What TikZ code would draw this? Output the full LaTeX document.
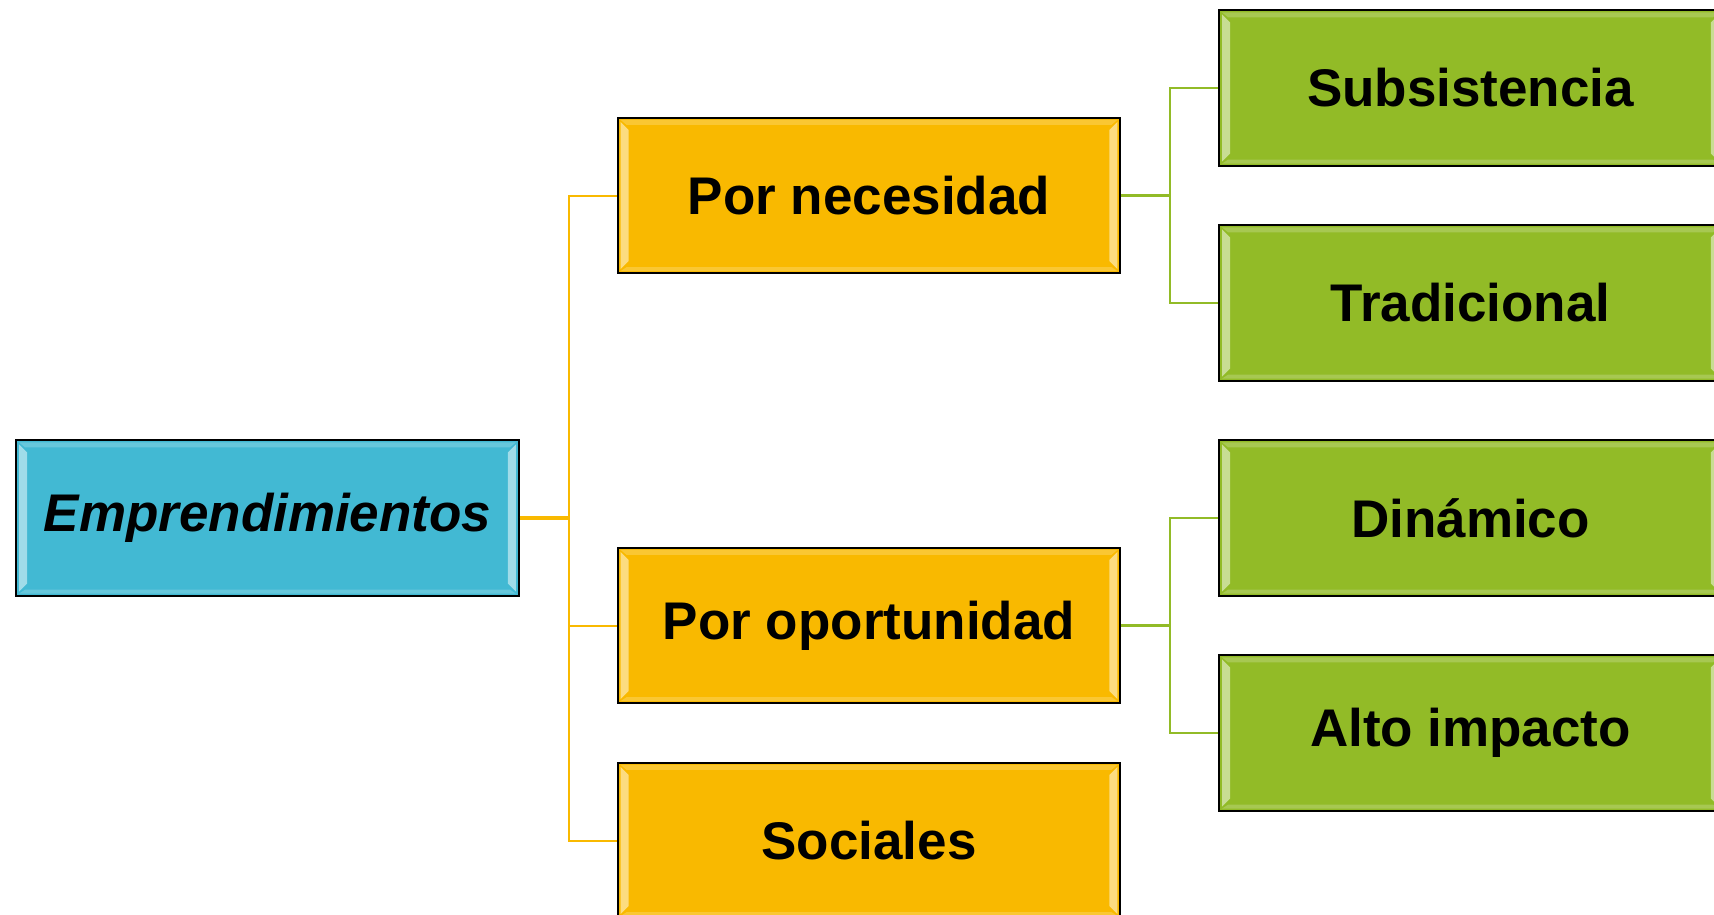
\documentclass[tikz,border=0pt]{standalone}
\usepackage{fontspec}
\setmainfont{Liberation Sans}
\definecolor{azul}{HTML}{42B9D3}
\definecolor{naranja}{HTML}{F9B900}
\definecolor{verde}{HTML}{92BB27}

\tikzset{
    bisel/.style = {path picture = {
        \fill[white, opacity=.5] ([shift={(3,-4)}]path picture bounding box.north west) -- ([shift={(11,-12)}]path picture bounding box.north west)
            -- ([shift={(11,12)}]path picture bounding box.south west) -- ([shift={(3,4)}]path picture bounding box.south west) -- cycle;
        \fill[white, opacity=.5] ([shift={(-3,-4)}]path picture bounding box.north east) -- ([shift={(-11,-12)}]path picture bounding box.north east)
            -- ([shift={(-11,12)}]path picture bounding box.south east) -- ([shift={(-3,4)}]path picture bounding box.south east) -- cycle;
        \fill[white, opacity=.2] ([shift={(3,-2)}]path picture bounding box.north west) -- ([shift={(-3,-2)}]path picture bounding box.north east)
            -- ([shift={(-9,-7)}]path picture bounding box.north east) -- ([shift={(9,-7)}]path picture bounding box.north west) -- cycle;
        \fill[white, opacity=.2] ([shift={(3,2)}]path picture bounding box.south west) -- ([shift={(-3,2)}]path picture bounding box.south east)
            -- ([shift={(-9,6)}]path picture bounding box.south east) -- ([shift={(9,6)}]path picture bounding box.south west) -- cycle;
    }},
    caja/.style = {draw=black, line width=1pt, rectangle, minimum width=251.4pt, minimum height=77.6pt,
        font=\fontsize{26.5}{30}\selectfont\bfseries, bisel},
    ramal/.style = {line width=1.8pt}
}

\begin{document}
\begin{tikzpicture}[x=0.5pt, y=0.5pt,
            every node/.style = {caja},
            grow'=right, level distance=300.75pt, sibling distance=107.5pt,
            edge from parent path = {(\tikzparentnode.east) -- ++(49,0) |- (\tikzchildnode.west)},
            level 1/.style = {edge from parent/.style = {draw=naranja, line width=1pt}},
            level 2/.style = {edge from parent/.style = {draw=verde, line width=1pt}}]
            \useasboundingbox (0,0) rectangle (1714,-915);
            \node[fill=azul, font=\fontsize{26.5}{30}\selectfont\bfseries\itshape] (emp) at (267.5,-518) {Emprendimientos}
            child {node[fill=naranja] (necesidad) {Por necesidad}
                child {node[fill=verde] (subsistencia) {Subsistencia}}
                child {node[fill=verde] (tradicional) {Tradicional}}
            }
            child[missing] {}
            child {node[fill=naranja] (oportunidad) {Por oportunidad}
                child {node[fill=verde] (dinamico) {Dinámico}}
                child {node[fill=verde] (alto) {Alto impacto}}
            }
            child {node[fill=naranja] (sociales) {Sociales}};
            \draw[ramal, naranja] (emp.east) -- ++(48,0);
            \draw[ramal, verde] (necesidad.east) -- ++(50,0);
            \draw[ramal, verde] (oportunidad.east) -- ++(50,0);
        \end{tikzpicture}
\end{document}
